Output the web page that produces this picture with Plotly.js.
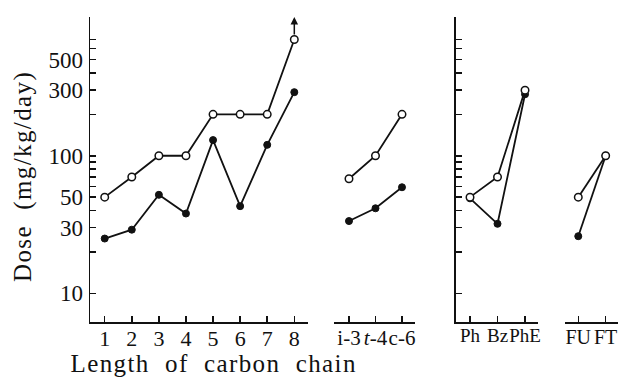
<!DOCTYPE html>
<html>
<head>
<meta charset="utf-8">
<script src="https://cdn.plot.ly/plotly-3.0.1.min.js"></script>
<style>
  html, body { margin: 0; padding: 0; background: #fff; }
  #chart { width: 629px; height: 378px; }
  #chart .annotation-text { letter-spacing: 1.4px; }
</style>
</head>
<body>
<div id="chart"></div>
<script>
// ---- data ----
const chainCats   = ['1', '2', '3', '4', '5', '6', '7', '8'];
const chainOpen   = [50, 70, 100, 100, 200, 200, 200, 700];
const chainFilled = [25, 29, 52, 38, 130, 43, 120, 290];

const isoCats   = ['i-3', 't-4', 'c-6'];
const isoLabels = ['i-3', '<i>t</i>-4', 'c-6'];
const isoOpen   = [68, 100, 200];
const isoFilled = [33.5, 41.5, 59];

const aroCats   = ['Ph', 'Bz', 'PhE'];
const aroOpen   = [50, 70, 300];
const aroFilled = [49, 32, 280];

const furCats   = ['FU', 'FT'];
const furOpen   = [50, 100];
const furFilled = [26, 100];

const yTickVals   = [10, 20, 30, 40, 50, 60, 70, 80, 90, 100, 200, 300, 400, 500, 600, 700];
const yTickLabels = ['10', '', '30', '', '50', '', '', '', '', '100', '', '300', '', '500', '', ''];

// ---- styling ----
const FONT = 'Liberation Serif, Times New Roman, serif';
const INK = '#111';
const lineStyle = { color: INK, width: 1.8 };
const openMarker = { symbol: 'circle', size: 7.5, color: '#fff', line: { color: INK, width: 1.5 } };
const filledMarker = { symbol: 'circle', size: 7, color: INK, line: { color: INK, width: 1 } };

function pair(cats, open, filled, xa, ya) {
  return [
    { x: cats, y: filled, xaxis: xa, yaxis: ya, mode: 'lines+markers', line: lineStyle, marker: filledMarker, cliponaxis: false, hoverinfo: 'x+y' },
    { x: cats, y: open, xaxis: xa, yaxis: ya, mode: 'lines+markers', line: lineStyle, marker: openMarker, cliponaxis: false, hoverinfo: 'x+y' }
  ];
}

const traces = [].concat(
  pair(chainCats, chainOpen, chainFilled, 'x', 'y'),
  pair(isoCats, isoOpen, isoFilled, 'x2', 'y'),
  pair(aroCats, aroOpen, aroFilled, 'x3', 'y2'),
  pair(furCats, furOpen, furFilled, 'x4', 'y2')
);

const yRange = [0.791, 3.009];

function xAxis(domain, range, size, extra) {
  return Object.assign({
    type: 'category', domain: domain, range: range, anchor: 'y',
    showline: true, linecolor: INK, linewidth: 1.5, mirror: false,
    ticks: 'inside', ticklen: 6, tickwidth: 1.5, tickcolor: INK,
    showgrid: false, zeroline: false, fixedrange: true,
    tickangle: 0,
    tickfont: { family: FONT, size: size, color: INK },
    ticklabelstandoff: -4
  }, extra || {});
}

const yBase = {
  type: 'log', range: yRange,
  showline: true, linecolor: INK, linewidth: 1.5,
  ticks: 'inside', ticklen: 6, tickwidth: 1.5, tickcolor: INK,
  tickmode: 'array', tickvals: yTickVals, ticktext: yTickLabels,
  showgrid: false, zeroline: false, fixedrange: true,
  tickfont: { family: FONT, size: 23, color: INK }
};

const layout = {
  width: 629, height: 378,
  margin: { l: 90, r: 11, t: 17, b: 56 },
  paper_bgcolor: '#fff', plot_bgcolor: '#fff',
  showlegend: false,
  font: { family: FONT, color: INK },
  xaxis:  xAxis([0, 0.4129], [-0.543, 7.506], 22, { tickvals: chainCats, ticktext: chainCats }),
  xaxis2: xAxis([0.4621, 0.6155], [-0.566, 2.49], 21, { tickvals: isoCats, ticktext: isoLabels }),
  xaxis3: xAxis([0.6926, 0.8479], [-0.52, 2.46], 19, { tickvals: aroCats, ticktext: aroCats }),
  xaxis4: xAxis([0.8996, 1], [-0.485, 1.45], 20, { tickvals: furCats, ticktext: furCats }),
  yaxis:  Object.assign({}, yBase, { anchor: 'x', ticklabelstandoff: 1 }),
  yaxis2: Object.assign({}, yBase, { anchor: 'x3', overlaying: 'y', side: 'left', showticklabels: false }),
  annotations: [
    { xref: 'paper', yref: 'paper', x: -0.127, y: 0.478, xanchor: 'center', yanchor: 'middle',
      text: 'Dose\u00a0 (mg/kg/day)', textangle: -90, showarrow: false,
      font: { family: FONT, size: 25, color: INK } },
    { xref: 'paper', yref: 'paper', x: 0.234, y: -0.1836, xanchor: 'center', yanchor: 'bottom', borderpad: 0,
      text: 'Length\u00a0 of\u00a0 carbon\u00a0 chain', showarrow: false,
      font: { family: FONT, size: 25, color: INK } },
    { xref: 'x', yref: 'y', x: 7, y: 3.009, text: '', showarrow: true,
      ax: 0, ay: 19, arrowhead: 2, arrowsize: 1, arrowwidth: 1.5, arrowcolor: INK, standoff: 0, startstandoff: 0 }
  ]
};

Plotly.newPlot('chart', traces, layout, { displayModeBar: false, staticPlot: true });
</script>
</body>
</html>
